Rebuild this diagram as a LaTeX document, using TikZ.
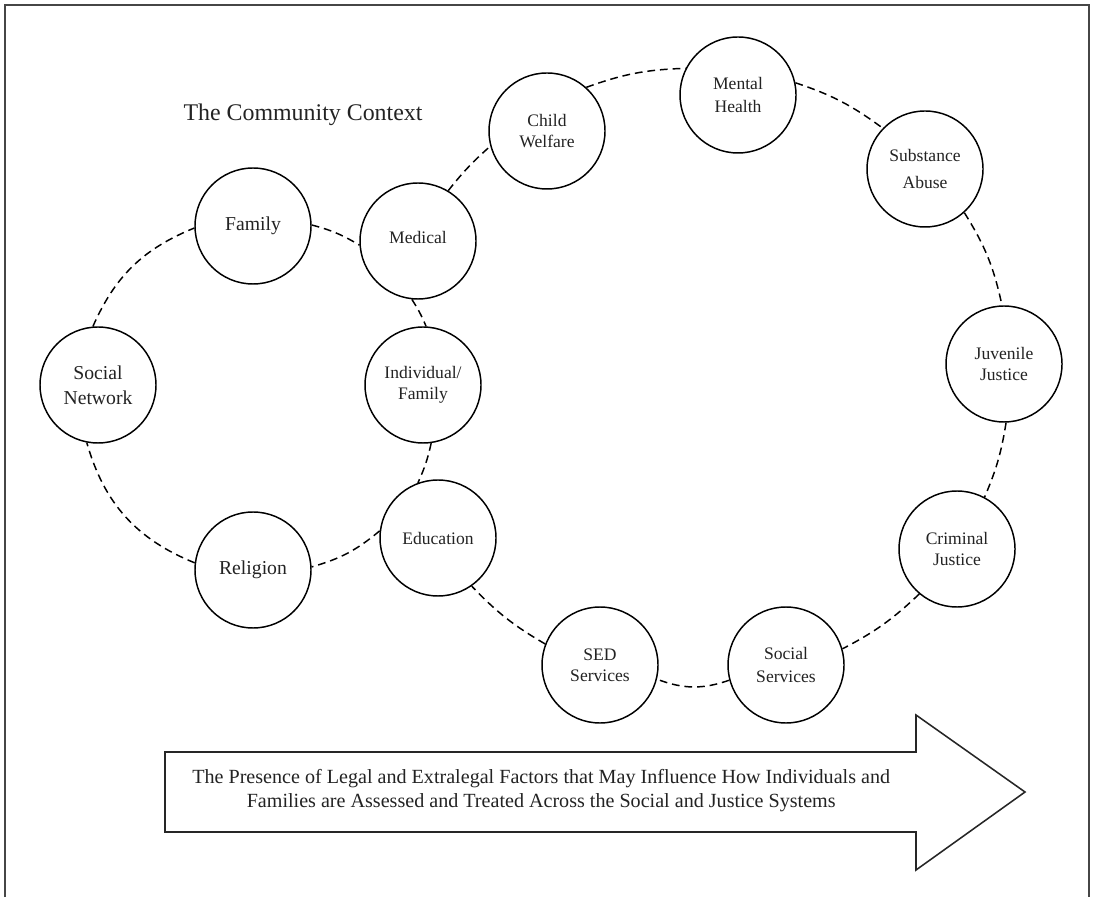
\documentclass[tikz,border=0pt]{standalone}
\usepackage{fontspec}
\setmainfont{Liberation Serif}
\usepackage{tikz}
\usetikzlibrary{positioning,calc}
\definecolor{InkGray}{RGB}{35,35,35}
\definecolor{FrameGray}{RGB}{70,70,70}
\tikzset{
	sys/.style={circle,draw=black,fill=white,line width=1.05pt,minimum size=2.9cm,
		inner sep=0pt,align=center,text=InkGray,font=\fontsize{12.5}{15}\selectfont},
	bigsys/.style={sys,font=\fontsize{14}{17.5}\selectfont},
	link/.style={draw=black,line width=1.05pt,dash pattern=on 5.5pt off 3.5pt},
	frame/.style={draw=FrameGray,line width=1.5pt},
	banner/.style={draw=black!85,line width=1.1pt,fill=white},
}

\begin{document}
\begin{tikzpicture}
			\useasboundingbox (0,0) rectangle (27.375,22.425);
			\draw[frame] (0.125,0) -- (0.125,22.3) -- (27.225,22.3) -- (27.225,0);
			% title
			\node[font=\fontsize{17}{20}\selectfont,text=InkGray] (title) at (7.575,19.55) {The Community Context};
			% left ring
			\node[bigsys] (sn) at (2.45,12.8) {Social\\Network};
			\node[bigsys] (fam) at (6.325,16.775) {Family};
			\node[sys] (med) at (10.45,16.4) {\raisebox{5pt}{Medical}};
			\node[sys] (indiv) at (10.575,12.8) {Individual/\\Family};
			\node[sys] (edu) at (10.95,8.975) {Education};
			\node[bigsys] (rel) at (6.325,8.175) {Religion};
			% right ring
			\node[sys] (child) at (13.675,19.15) {Child\\Welfare};
			\node[sys] (mental) at (18.45,20.05) {Mental\\[2pt]Health};
			\node[sys] (subst) at (23.125,18.2) {Substance\\[4pt]Abuse};
			\node[sys] (juv) at (25.1,13.325) {Juvenile\\Justice};
			\node[sys] (crim) at (23.925,8.7) {Criminal\\Justice};
			\node[sys] (socserv) at (19.65,5.8) {Social\\[2pt]Services};
			\node[sys] (sed) at (15.0,5.8) {SED\\Services};
			% dashed links, left ring
			\draw[link] (sn.95) to[bend left=22] (fam.182);
			\draw[link] (fam.1) to[bend left=8] (med.184);
			\draw[link] (med.264) to[bend left=5] (indiv.87);
			\draw[link] (indiv.278) to[bend left=6] (edu.110);
			\draw[link] (edu.173) to[bend left=12] (rel.3);
			\draw[link] (rel.173) to[bend left=26] (sn.259);
			% dashed links, right ring
			\draw[link] (med.59) to[bend left=5] (child.195);
			\draw[link] (child.48) to[bend left=9] (mental.153);
			\draw[link] (mental.12) to[bend left=9] (subst.136);
			\draw[link] (subst.312) to[bend left=10] (juv.92);
			\draw[link] (juv.272) to[bend left=7] (crim.62);
			\draw[link] (crim.230) to[bend left=8] (socserv.16);
			\draw[link] (socserv.195) to[bend left=20] (sed.346);
			\draw[link] (sed.159) to[bend left=8] (edu.305);
			% big arrow
			\draw[banner] (4.125,1.625) -- (22.9,1.625) -- (22.9,0.675) -- (25.625,2.625)
				-- (22.9,4.55) -- (22.9,3.625) -- (4.125,3.625) -- cycle;
			\node[align=center,text=InkGray,font=\fontsize{14.3}{17}\selectfont] (factors) at (13.53,2.66)
				{The Presence of Legal and Extralegal Factors that May Influence How Individuals and\\
				Families are Assessed and Treated Across the Social and Justice Systems};
		\end{tikzpicture}
\end{document}
